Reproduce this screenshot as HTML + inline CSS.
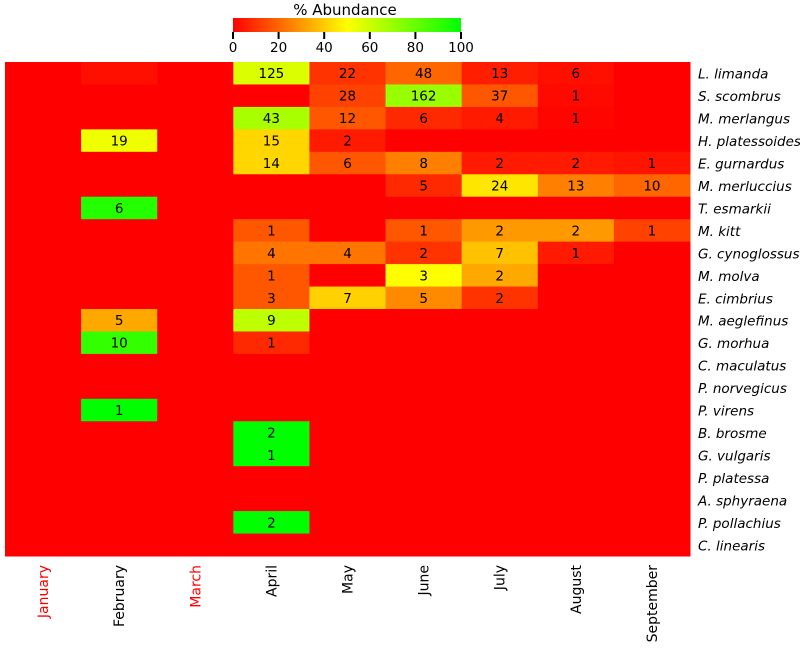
<!DOCTYPE html>
<html><head><meta charset="utf-8"><style>
body{margin:0;background:#fff;}
svg text{font-family:"DejaVu Sans","Liberation Sans",sans-serif;}
</style></head><body>
<svg id="chart" width="800" height="645" xmlns="http://www.w3.org/2000/svg">
<defs><linearGradient id="cg" x1="0" x2="1" y1="0" y2="0">
<stop offset="0" stop-color="#ff0000"/><stop offset="0.5" stop-color="#ffff00"/><stop offset="1" stop-color="#00ff00"/></linearGradient></defs>
<g id="cells"></g><g id="xlabels"></g><g id="ylabels"></g>
<g>
<text x="345" y="15" font-size="15" text-anchor="middle">% Abundance</text>
<rect x="233" y="18" width="228" height="14" fill="url(#cg)"/>
<g id="cbticks"></g></g>
</svg>
<script>
const months=["January","February","March","April","May","June","July","August","September"];
const redMonths=["January","March"];
const species=["L. limanda","S. scombrus","M. merlangus","H. platessoides","E. gurnardus","M. merluccius","T. esmarkii","M. kitt","G. cynoglossus","M. molva","E. cimbrius","M. aeglefinus","G. morhua","C. maculatus","P. norvegicus","P. virens","B. brosme","G. vulgaris","P. platessa","A. sphyraena","P. pollachius","C. linearis"];
// percent abundance (colour) per species row, month column
const pct=[
[0,3,0,57,10,20,6,3,0],
[0,0,0,0,13,70,17,2,0],
[0,0,0,67,17,8,5,1,0],
[0,53,0,42,5,0,0,0,0],
[0,0,0,42,17,25,5,5,4],
[0,0,0,0,0,8,45,25,20],
[0,93,0,0,0,0,0,0,0],
[0,0,0,17,0,17,30,30,13],
[0,0,0,23,23,10,38,5,0],
[0,0,0,17,0,50,33,0,0],
[0,0,0,17,41,27,10,0,0],
[0,33,0,63,0,0,0,0,0],
[0,90,0,8,0,0,0,0,0],
[0,0,0,0,0,0,0,0,0],
[0,0,0,0,0,0,0,0,0],
[0,100,0,0,0,0,0,0,0],
[0,0,0,100,0,0,0,0,0],
[0,0,0,100,0,0,0,0,0],
[0,0,0,0,0,0,0,0,0],
[0,0,0,0,0,0,0,0,0],
[0,0,0,100,0,0,0,0,0],
[0,0,0,0,0,0,0,0,0]];
// printed counts ("" = none)
const counts=[
["","","","125","22","48","13","6",""],
["","","","","28","162","37","1",""],
["","","","43","12","6","4","1",""],
["","19","","15","2","","","",""],
["","","","14","6","8","2","2","1"],
["","","","","","5","24","13","10"],
["","6","","","","","","",""],
["","","","1","","1","2","2","1"],
["","","","4","4","2","7","1",""],
["","","","1","","3","2","",""],
["","","","3","7","5","2","",""],
["","5","","9","","","","",""],
["","10","","1","","","","",""],
["","","","","","","","",""],
["","","","","","","","",""],
["","1","","","","","","",""],
["","","","2","","","","",""],
["","","","1","","","","",""],
["","","","","","","","",""],
["","","","","","","","",""],
["","","","2","","","","",""],
["","","","","","","","",""]];
const cbTicks=[0,20,40,60,80,100];
const NS="http://www.w3.org/2000/svg";
const X0=5,X1=690,Y0=62,Y1=556;
const cw=(X1-X0)/months.length, rh=(Y1-Y0)/species.length;
const xs=i=>X0+i*cw, ys=j=>Y0+j*rh;
const cbx=v=>233+v/100*228;
function col(p){let r,g;if(p<=50){r=255;g=Math.round(255*p/50);}else{g=255;r=Math.round(255*(1-(p-50)/50));}return `rgb(${r},${g},0)`;}
function mk(t,a,p){const e=document.createElementNS(NS,t);for(const k in a)e.setAttribute(k,a[k]);p.appendChild(e);return e;}
const cells=document.getElementById('cells');
species.forEach((s,j)=>months.forEach((m,i)=>{
 const r=mk('rect',{x:xs(i),y:ys(j),width:cw+0.5,height:rh+0.5,fill:col(pct[j][i])},cells);
 
 
 if(counts[j][i]!==""){const t=mk('text',{x:xs(i)+cw/2,y:ys(j)+rh/2+5,'font-size':13.5,'text-anchor':'middle',fill:'#000'},cells);t.textContent=counts[j][i];
 
 }
}));
const xl=document.getElementById('xlabels');
months.forEach((m,i)=>{const cx=xs(i)+cw/2+5;const t=mk('text',{x:0,y:0,transform:`translate(${cx},565) rotate(-90)`,'font-size':14,'text-anchor':'end',fill:redMonths.includes(m)?'#ff0000':'#000'},xl);t.textContent=m;
 
 });
const yl=document.getElementById('ylabels');
species.forEach((s,j)=>{const t=mk('text',{x:698,y:ys(j)+rh/2+5.5,'font-size':13.5,'font-style':'italic'},yl);t.textContent=s;
 
 });
const cb=document.getElementById('cbticks');
cbTicks.forEach(v=>{mk('line',{x1:cbx(v),x2:cbx(v),y1:32,y2:39,stroke:'#000','stroke-width':2},cb);
 const t=mk('text',{x:cbx(v),y:52,'font-size':13.5,'text-anchor':'middle'},cb);t.textContent=v;
 
 });
</script>
</body></html>
